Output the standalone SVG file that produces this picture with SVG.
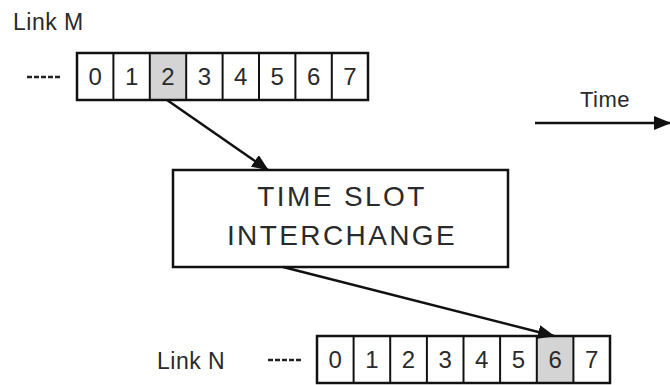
<svg xmlns="http://www.w3.org/2000/svg" width="670" height="385" viewBox="0 0 670 385">
  <style>
    .lbl { font-family: "Liberation Sans", Arial, sans-serif; fill: #2a2a2a; }
    .big { font-size: 23px; letter-spacing: 0.5px; }
    .dig { font-size: 24px; text-anchor: middle; }
    .tsi { font-size: 28px; letter-spacing: 2.4px; text-anchor: middle; }
    .frame { fill: none; stroke: #111; stroke-width: 2.5; }
    .div { stroke: #111; stroke-width: 2; }
    .shade { fill: #d4d4d4; }
    .dash { stroke: #222; stroke-width: 2.5; stroke-dasharray: 5 2; }
    .conn { stroke: #111; stroke-width: 2.5; fill: none; }
  </style>
  <defs>
    <marker id="ah" markerUnits="userSpaceOnUse" markerWidth="18" markerHeight="14" refX="16" refY="7" orient="auto">
      <path d="M0,0 L17,7 L0,14 Z" fill="#111"/>
    </marker>
  </defs>
  <rect width="670" height="385" fill="#fff"/>

  <g id="link-m">
    <text class="lbl big" x="13" y="30">Link M</text>
    <line class="dash" x1="27" y1="77" x2="61" y2="77"/>
    <rect class="shade" x="149.8" y="53" width="36.4" height="47"/>
    <g class="div">
      <line x1="113.4" y1="53" x2="113.4" y2="100"/>
      <line x1="149.8" y1="53" x2="149.8" y2="100"/>
      <line x1="186.2" y1="53" x2="186.2" y2="100"/>
      <line x1="222.6" y1="53" x2="222.6" y2="100"/>
      <line x1="259" y1="53" x2="259" y2="100"/>
      <line x1="295.4" y1="53" x2="295.4" y2="100"/>
      <line x1="331.8" y1="53" x2="331.8" y2="100"/>
    </g>
    <rect class="frame" x="77" y="53" width="291" height="47"/>
    <g class="lbl dig">
      <text x="95.2" y="85">0</text>
      <text x="131.6" y="85">1</text>
      <text x="168" y="85">2</text>
      <text x="204.4" y="85">3</text>
      <text x="240.8" y="85">4</text>
      <text x="277.2" y="85">5</text>
      <text x="313.6" y="85">6</text>
      <text x="350" y="85">7</text>
    </g>
  </g>

  <g id="time">
    <text class="lbl" x="605" y="107" font-size="22" text-anchor="middle" letter-spacing="0.5">Time</text>
    <line class="conn" x1="535" y1="123" x2="670" y2="123" marker-end="url(#ah)"/>
  </g>

  <g id="tsi">
    <rect class="frame" x="173" y="170" width="335" height="97"/>
    <text class="lbl tsi" x="342" y="206">TIME SLOT</text>
    <text class="lbl tsi" x="342" y="245">INTERCHANGE</text>
  </g>

  <g id="link-n">
    <text class="lbl big" x="157" y="369">Link N</text>
    <line class="dash" x1="268" y1="360" x2="303" y2="360"/>
    <rect class="shade" x="536.8" y="336" width="36.6" height="47"/>
    <g class="div">
      <line x1="353.6" y1="336" x2="353.6" y2="383"/>
      <line x1="390.2" y1="336" x2="390.2" y2="383"/>
      <line x1="426.9" y1="336" x2="426.9" y2="383"/>
      <line x1="463.5" y1="336" x2="463.5" y2="383"/>
      <line x1="500.1" y1="336" x2="500.1" y2="383"/>
      <line x1="536.8" y1="336" x2="536.8" y2="383"/>
      <line x1="573.4" y1="336" x2="573.4" y2="383"/>
    </g>
    <rect class="frame" x="317" y="336" width="293" height="47"/>
    <g class="lbl dig">
      <text x="335.3" y="368">0</text>
      <text x="371.9" y="368">1</text>
      <text x="408.5" y="368">2</text>
      <text x="445.2" y="368">3</text>
      <text x="481.8" y="368">4</text>
      <text x="518.4" y="368">5</text>
      <text x="555.1" y="368">6</text>
      <text x="591.7" y="368">7</text>
    </g>
  </g>

  <g id="connectors">
    <line class="conn" x1="167" y1="100" x2="268" y2="170" marker-end="url(#ah)"/>
    <line class="conn" x1="283" y1="267" x2="554" y2="336" marker-end="url(#ah)"/>
  </g>
</svg>
